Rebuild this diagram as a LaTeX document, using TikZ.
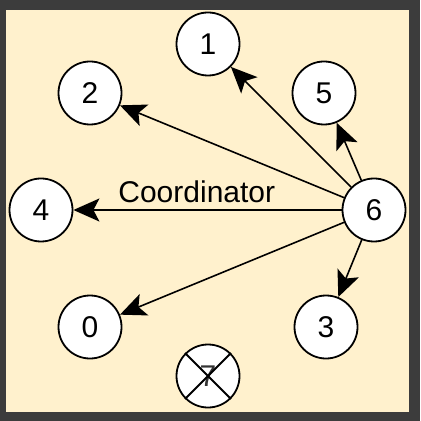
\documentclass[tikz,border=0pt]{standalone}
\usepackage{fontspec}
\setmainfont{Liberation Sans}
\usetikzlibrary{arrows.meta}
\definecolor{frame}{HTML}{3C3C3C}
\definecolor{cream}{HTML}{FFF1CD}

\begin{document}
\begin{tikzpicture}[x=0.5pt,y=-0.5pt,
  proc/.style={circle,draw,line width=0.9pt,fill=white,minimum size=31.5pt,inner sep=0pt,font=\fontsize{15}{18}\selectfont},
  arr/.style={line width=0.8pt,-{Stealth[length=13pt,width=11.5pt,inset=3pt]}}]
\fill [frame] (0,0) rectangle (420,421);
\fill [cream] (6,10) rectangle (409,412);
\node[proc] (n1) at (208,44) {1};
\node[proc] (n2) at (90,93) {2};
\node[proc] (n5) at (324,93) {5};
\node[proc] (n4) at (41,210) {4};
\node[proc] (n6) at (374,210) {6};
\node[proc] (n0) at (90,327) {0};
\node[proc] (n3) at (326,327) {3};
\node[proc] (n7) at (208,376) {\textcolor{black!80}{7}};
\draw [line width=0.9pt] (n7.north east)--(n7.south west) (n7.north west)--(n7.south east);
\foreach \i in {1,2,5,0,3}
{       \draw[arr] (n6) -- (n\i);
}
\draw[arr] (n6) -- (n4) node[above=3pt,inner sep=0pt,pos=0.54,font=\fontsize{15}{18}\selectfont] (lbl) {Coordinator};
\end{tikzpicture}
\end{document}
